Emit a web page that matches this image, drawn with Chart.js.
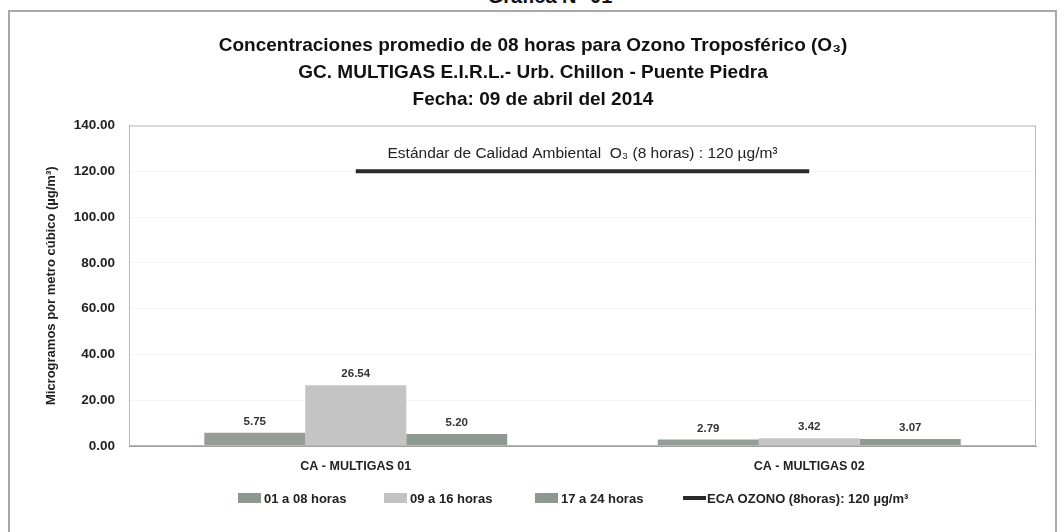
<!DOCTYPE html>
<html lang="es">
<head>
<meta charset="utf-8">
<title>Gráfica N° 01</title>
<script src="https://cdn.jsdelivr.net/npm/chart.js@4.4.1/dist/chart.umd.min.js"></script>
<style>
    html, body { margin: 0; padding: 0; background: #ffffff; }
    body { width: 1064px; height: 532px; position: relative; overflow: hidden; font-family: 'Liberation Sans', Arial, sans-serif; }
    .page-title { position: absolute; left: 0; width: 1100px; top: -16px; text-align: center; font-weight: bold; font-size: 20px; line-height: 24px; color: #111; }
    .frame { position: absolute; left: 8px; top: 10px; width: 1049px; height: 540px; border: 2px solid #a8a8a8; box-sizing: border-box; }
    .chart-box { position: absolute; left: 0; top: 0; width: 1064px; height: 532px; }
    .legend { position: absolute; top: 488px; left: 0; width: 1064px; height: 20px; font-weight: bold; font-size: 13px; color: #222; }
    .legend-item { position: absolute; top: 0; height: 20px; display: flex; align-items: center; white-space: nowrap; }
    .legend-box { width: 23px; height: 10px; margin-right: 3px; }
    .legend-line { width: 23px; height: 4px; margin-right: 1px; }
</style>
</head>
<body>
<div class="page-title">Gráfica N° 01</div>
<div class="frame"></div>
<div class="chart-box"><canvas id="ozonoChart" width="1064" height="532"></canvas></div>
<div class="legend" id="ozonoLegend"></div>
<script>
const estaciones = ['CA - MULTIGAS 01', 'CA - MULTIGAS 02'];
const periodos = ['01 a 08 horas', '09 a 16 horas', '17 a 24 horas'];
const valores0108 = [5.75, 2.79];
const valores0916 = [26.54, 3.42];
const valores1724 = [5.20, 3.07];
const ecaOzono = [120, 120];
const ecaLabel = 'ECA OZONO (8horas): 120 µg/m³';
const ecaTexto = 'Estándar de Calidad Ambiental  O₃ (8 horas) : 120 µg/m³';
const yTicks = [0, 20, 40, 60, 80, 100, 120, 140];
const titulo = [
    'Concentraciones promedio de 08 horas para Ozono Troposférico (O₃)',
    'GC. MULTIGAS E.I.R.L.- Urb. Chillon - Puente Piedra',
    'Fecha: 09 de abril del 2014',
];

document.addEventListener('DOMContentLoaded', () => {
    const barColors = ['#959d98', '#c4c4c4', '#8f9993'];
    const legendColors = ['#8d9891', '#c2c2c2', '#8d9891'];
    const lineColor = '#2a2a2a';
    const font = "'Liberation Sans', Arial, sans-serif";

    // etiquetas de valor sobre cada barra
    const valueLabels = {
        id: 'valueLabels',
        afterDatasetsDraw(chart) {
            const { ctx } = chart;
            ctx.save();
            ctx.font = `bold 11.5px ${font}`;
            ctx.fillStyle = '#333';
            ctx.textAlign = 'center';
            ctx.textBaseline = 'middle';
            chart.data.datasets.forEach((ds, i) => {
                if (ds.type === 'line') return;
                chart.getDatasetMeta(i).data.forEach((bar, j) => {
                    ctx.fillText(ds.data[j].toFixed(2), bar.x, bar.y - 11);
                });
            });
            ctx.restore();
        },
    };

    // caja del área de trazado + texto del estándar
    const plotFrame = {
        id: 'plotFrame',
        afterDraw(chart) {
            const { ctx, chartArea } = chart;
            ctx.save();
            ctx.strokeStyle = '#b8b8b8';
            ctx.lineWidth = 1;
            ctx.strokeRect(chartArea.left + 0.5, chartArea.top + 0.5, chartArea.width - 1, chartArea.height - 1);

            const lineIdx = chart.data.datasets.findIndex((ds) => ds.type === 'line');
            const pts = chart.getDatasetMeta(lineIdx).data;
            const cx = (pts[0].x + pts[pts.length - 1].x) / 2;
            ctx.font = `15.5px ${font}`;
            ctx.fillStyle = '#222';
            ctx.textAlign = 'center';
            ctx.textBaseline = 'middle';
            ctx.fillText(ecaTexto, cx, pts[0].y - 18);
            ctx.restore();
        },
    };

    const ctx = document.getElementById('ozonoChart');
    const chart = new Chart(ctx, {
        data: {
            labels: estaciones,
            datasets: [
                { type: 'bar', label: periodos[0], data: valores0108, backgroundColor: barColors[0], order: 2 },
                { type: 'bar', label: periodos[1], data: valores0916, backgroundColor: barColors[1], order: 2 },
                { type: 'bar', label: periodos[2], data: valores1724, backgroundColor: barColors[2], order: 2 },
                {
                    type: 'line',
                    label: ecaLabel,
                    data: ecaOzono,
                    borderColor: lineColor,
                    borderWidth: 4,
                    pointRadius: 0,
                    order: 1,
                },
            ],
        },
        options: {
            responsive: false,
            animation: false,
            datasets: {
                bar: { categoryPercentage: 0.668, barPercentage: 1.0 },
            },
            layout: { padding: { left: 30, right: 28, top: 12, bottom: 46 } },
            plugins: {
                legend: { display: false },
                tooltip: { enabled: false },
                title: {
                    display: true,
                    text: titulo,
                    color: '#111',
                    font: { family: font, size: 19, weight: 'bold', lineHeight: 1.43 },
                    padding: { top: 20, bottom: 12 },
                },
            },
            scales: {
                x: {
                    grid: { display: false, drawTicks: false },
                    border: { color: '#a0a0a0' },
                    ticks: { color: '#222', padding: 13, font: { family: font, size: 12.5, weight: 'bold' } },
                    afterFit: (scale) => { scale.height = 40; },
                },
                y: {
                    min: 0,
                    max: 140,
                    afterBuildTicks: (scale) => { scale.ticks = yTicks.map((v) => ({ value: v })); },
                    grid: { color: '#f4f4f4', drawTicks: false },
                    border: { color: '#a0a0a0' },
                    ticks: {
                        color: '#222',
                        padding: 14,
                        font: { family: font, size: 13.5, weight: 'bold' },
                        callback: (value) => Number(value).toFixed(2),
                    },
                    title: {
                        display: true,
                        text: 'Microgramos por metro cúbico (µg/m³)',
                        color: '#222',
                        font: { family: font, size: 13, weight: 'bold' },
                        padding: { top: 14, bottom: 0 },
                    },
                    afterFit: (scale) => { scale.width = 99; },
                },
            },
        },
        plugins: [valueLabels, plotFrame],
    });

    // leyenda con posiciones fijas como en el original
    const legend = document.getElementById('ozonoLegend');
    const legendX = [238, 384, 535, 683];
    legend.innerHTML = chart.data.datasets
        .map((ds, i) => {
            const swatch = ds.type === 'line'
                ? `<span class="legend-line" style="background:${lineColor}"></span>`
                : `<span class="legend-box" style="background:${legendColors[i]}"></span>`;
            return `<div class="legend-item" style="left:${legendX[i]}px">${swatch}<span>${ds.label}</span></div>`;
        })
        .join('');
});
</script>
</body>
</html>
